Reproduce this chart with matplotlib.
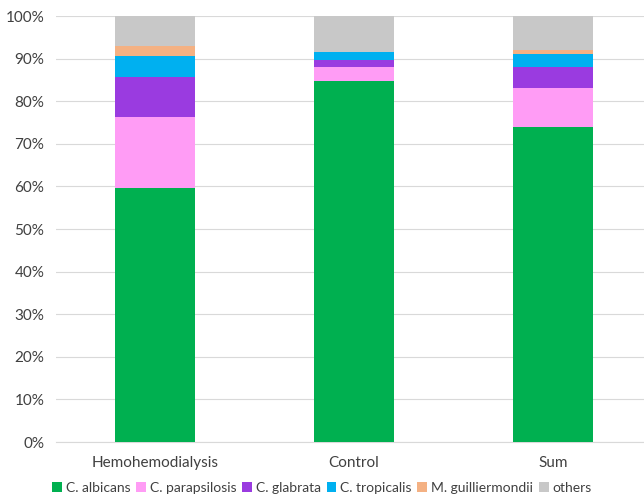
import matplotlib.pyplot as plt
import numpy as np

groups = ['Hemohemodialysis', 'Control', 'Sum']
species = ['C. albicans', 'C. parapsilosis', 'C. glabrata', 'C. tropicalis', 'M. guilliermondii', 'others']
albicans = [59.6, 84.7, 74.0]
parapsilosis = [16.6, 3.3, 9.1]
glabrata = [9.5, 1.7, 4.9]
tropicalis = [4.9, 1.8, 3.1]
guilliermondii = [2.4, 0.0, 0.9]
others = [7.0, 8.5, 8.0]

colors = ['#00B050', '#FF9CF5', '#9A3BE0', '#00B0F0', '#F4B183', '#C8C8C8']
series = [albicans, parapsilosis, glabrata, tropicalis, guilliermondii, others]

plt.rcParams['font.family'] = ['Lato', 'DejaVu Sans']
fig = plt.figure(figsize=(6.44, 4.98), dpi=100)
ax = fig.add_axes([55.5 / 644, 56 / 498, (644 - 55.5) / 644, 426 / 498])

x = np.arange(len(groups))
bottom = np.zeros(len(groups))
for vals, c, name in zip(series, colors, species):
    ax.bar(x, vals, 0.4, bottom=bottom, color=c, label=name, zorder=3)
    bottom += np.array(vals)

ax.set_xlim(-0.5, 2.457)
ax.set_ylim(0, 100)
ax.set_yticks(np.arange(0, 101, 10))
ax.set_yticklabels([f'{v}%' for v in range(0, 101, 10)], fontsize=11, color='#404040')
ax.set_xticks(x)
ax.set_xticklabels(groups, fontsize=11, color='#404040')
ax.tick_params(axis='y', length=0, pad=8)
ax.tick_params(axis='x', length=0, pad=10)
ax.grid(axis='y', color='#D9D9D9', lw=0.8, zorder=0)
for s in ['top', 'right', 'left']:
    ax.spines[s].set_visible(False)
ax.spines['bottom'].set_color('#D9D9D9')

fig.legend(loc='center', bbox_to_anchor=(0.5, 10 / 498), ncol=6, frameon=False,
           fontsize=10, handlelength=0.7, handleheight=0.7, columnspacing=0.4,
           handletextpad=0.3, labelcolor='#404040')
fig.savefig('out.png')
